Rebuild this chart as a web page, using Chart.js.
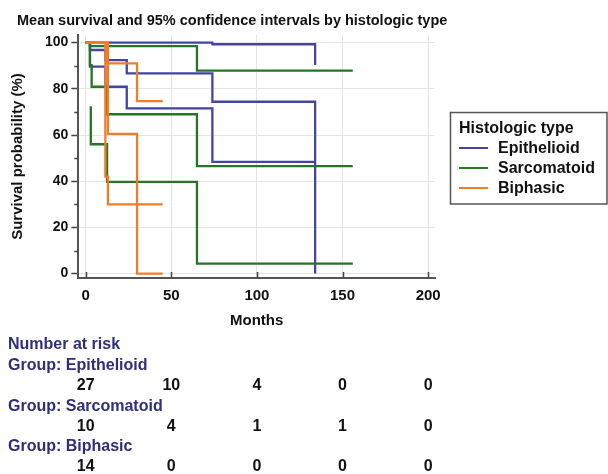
<!DOCTYPE html>
<html>
<head>
<meta charset="utf-8">
<script src="https://cdn.jsdelivr.net/npm/chart.js@4/dist/chart.umd.min.js"></script>
<style>
  body { margin: 0; background: #fff; }
  canvas { display: block; }
</style>
</head>
<body>
<canvas id="km" width="608" height="474"></canvas>
<script>
// Kaplan-Meier steps (months, survival %)
const epiMonths = [0, 2.5, 11.5, 24, 74, 134];
const epiSurv = [100, 96.8, 92.4, 86.7, 74.4, 0];
const epiLowMonths = [0, 2.5, 11.5, 24, 74, 134];
const epiLowSurv = [100, 89.6, 80.9, 71.5, 48.4, 48.4];
const epiUpMonths = [0, 74, 134];
const epiUpSurv = [100, 99.3, 90.3];

const sarMonths = [0, 2.5, 3.5, 12.5, 65, 156];
const sarSurv = [100, 90.3, 80.9, 69, 46.5, 46.5];
const sarLowMonths = [3, 3, 12.5, 65, 156];
const sarLowSurv = [72.5, 56, 39.7, 4.3, 4.3];
const sarUpMonths = [0, 2.5, 65, 156];
const sarUpSurv = [100, 98.5, 87.9, 87.9];

const biMonths = [0, 13, 30, 45];
const biSurv = [100, 60.5, 0, 0];
const biLowMonths = [0, 11.5, 13, 45];
const biLowSurv = [100, 42, 30, 30];
const biUpMonths = [0, 12, 30, 45];
const biUpSurv = [100, 91, 74.7, 74.7];

// axis ticks
const xTicks = [0, 50, 100, 150, 200];
const yTicks = [0, 20, 40, 60, 80, 100];
const yMinor = [10, 30, 50, 70, 90];

// number at risk table
const riskTimes = [0, 50, 100, 150, 200];
const riskEpithelioid = [27, 10, 4, 0, 0];
const riskSarcomatoid = [10, 4, 1, 1, 0];
const riskBiphasic = [14, 0, 0, 0, 0];

const groups = ['Epithelioid', 'Sarcomatoid', 'Biphasic'];
const colors = ['#4444a4', '#257525', '#f07d28'];

const FONT = '"Liberation Sans", Arial, sans-serif';
Chart.defaults.font.family = FONT;
Chart.defaults.font.weight = 'bold';
Chart.defaults.color = '#111';

function pts(xs, ys) {
    return xs.map((x, i) => ({ x: x, y: ys[i] }));
}

function line(label, xs, ys, color, order) {
    return {
        label: label,
        data: pts(xs, ys),
        borderColor: color,
        backgroundColor: color,
        borderWidth: 2.3,
        pointRadius: 0,
        stepped: true,
        fill: false,
        order: order
    };
}

// extra text / marks drawn on top of the chart
const extras = {
    id: 'extras',
    afterDraw(chart) {
        const c = chart.ctx;
        const xs = chart.scales.x;
        const ys = chart.scales.y;
        const area = chart.chartArea;
        c.save();

        // inward ticks on x axis
        c.strokeStyle = '#444';
        c.lineWidth = 1.5;
        xTicks.forEach(v => {
            const px = Math.round(xs.getPixelForValue(v)) + 0.5;
            c.beginPath();
            c.moveTo(px, area.bottom);
            c.lineTo(px, area.bottom - 6);
            c.stroke();
        });
        // minor ticks on y axis
        yMinor.forEach(v => {
            const py = Math.round(ys.getPixelForValue(v)) + 0.5;
            c.beginPath();
            c.moveTo(area.left - 4, py);
            c.lineTo(area.left, py);
            c.stroke();
        });

        // title
        c.fillStyle = '#111';
        c.font = 'bold 14.5px ' + FONT;
        c.textAlign = 'left';
        c.textBaseline = 'middle';
        c.fillText('Mean survival and 95% confidence intervals by histologic type', 17, 21);

        // legend box
        c.strokeStyle = '#555';
        c.lineWidth = 1.5;
        c.strokeRect(450.5, 112.5, 156.5, 91.5);
        c.font = 'bold 16px ' + FONT;
        c.fillText('Histologic type', 459, 129);
        const rowsY = [148, 168, 188];
        groups.forEach((g, i) => {
            c.strokeStyle = colors[i];
            c.lineWidth = 2;
            c.beginPath();
            c.moveTo(459, rowsY[i]);
            c.lineTo(488, rowsY[i]);
            c.stroke();
            c.fillStyle = '#111';
            c.fillText(g, 498, rowsY[i] + 1);
        });

        // number at risk
        const navy = '#2e2e7c';
        c.font = 'bold 16px ' + FONT;
        c.fillStyle = navy;
        c.fillText('Number at risk', 8, 345);
        const rows = [
            ['Group: Epithelioid', riskEpithelioid, 366, 386],
            ['Group: Sarcomatoid', riskSarcomatoid, 407, 427],
            ['Group: Biphasic', riskBiphasic, 447, 467]
        ];
        rows.forEach(r => {
            c.fillStyle = navy;
            c.textAlign = 'left';
            c.fillText(r[0], 8, r[2]);
            c.fillStyle = '#111';
            c.textAlign = 'center';
            r[1].forEach((n, i) => {
                c.fillText(String(n), xs.getPixelForValue(riskTimes[i]), r[3]);
            });
        });
        c.restore();
    }
};

new Chart(document.getElementById('km'), {
    type: 'line',
    data: {
        datasets: [
            line('Epithelioid', epiMonths, epiSurv, colors[0], 3),
            line('Epithelioid lower', epiLowMonths, epiLowSurv, colors[0], 3),
            line('Epithelioid upper', epiUpMonths, epiUpSurv, colors[0], 3),
            line('Sarcomatoid', sarMonths, sarSurv, colors[1], 2),
            line('Sarcomatoid lower', sarLowMonths, sarLowSurv, colors[1], 2),
            line('Sarcomatoid upper', sarUpMonths, sarUpSurv, colors[1], 2),
            line('Biphasic', biMonths, biSurv, colors[2], 1),
            line('Biphasic lower', biLowMonths, biLowSurv, colors[2], 1),
            line('Biphasic upper', biUpMonths, biUpSurv, colors[2], 1)
        ]
    },
    options: {
        responsive: false,
        animation: false,
        devicePixelRatio: 1,
        layout: {
            padding: { left: 0, top: 35, right: 173, bottom: 144 }
        },
        plugins: {
            legend: { display: false },
            tooltip: { enabled: false }
        },
        scales: {
            x: {
                type: 'linear',
                min: -4.3,
                max: 204,
                afterBuildTicks: s => { s.ticks = xTicks.map(v => ({ value: v })); },
                afterFit: s => { s.height = 52; },
                grid: { color: '#e4e4e4', lineWidth: 1, drawTicks: false },
                border: { display: true, color: '#555', width: 2 },
                ticks: { padding: 9, font: { size: 15, weight: 'bold' }, color: '#111', maxRotation: 0 },
                title: { display: true, text: 'Months', font: { size: 15, weight: 'bold' }, color: '#111', padding: { top: 0, bottom: 0 } }
            },
            y: {
                type: 'linear',
                min: -1.9,
                max: 103.3,
                afterBuildTicks: s => { s.ticks = yTicks.map(v => ({ value: v })); },
                afterFit: s => { s.width = 78.3; },
                grid: { color: '#e4e4e4', lineWidth: 1, tickColor: '#444', tickLength: 7, tickWidth: 1.5 },
                border: { display: true, color: '#555', width: 2 },
                ticks: { padding: 3, font: { size: 14, weight: 'bold' }, color: '#111' },
                title: { display: true, text: 'Survival probability (%)', font: { size: 15, weight: 'bold' }, color: '#111', padding: { top: 9, bottom: 0 } }
            }
        }
    },
    plugins: [extras]
});
</script>
</body>
</html>
